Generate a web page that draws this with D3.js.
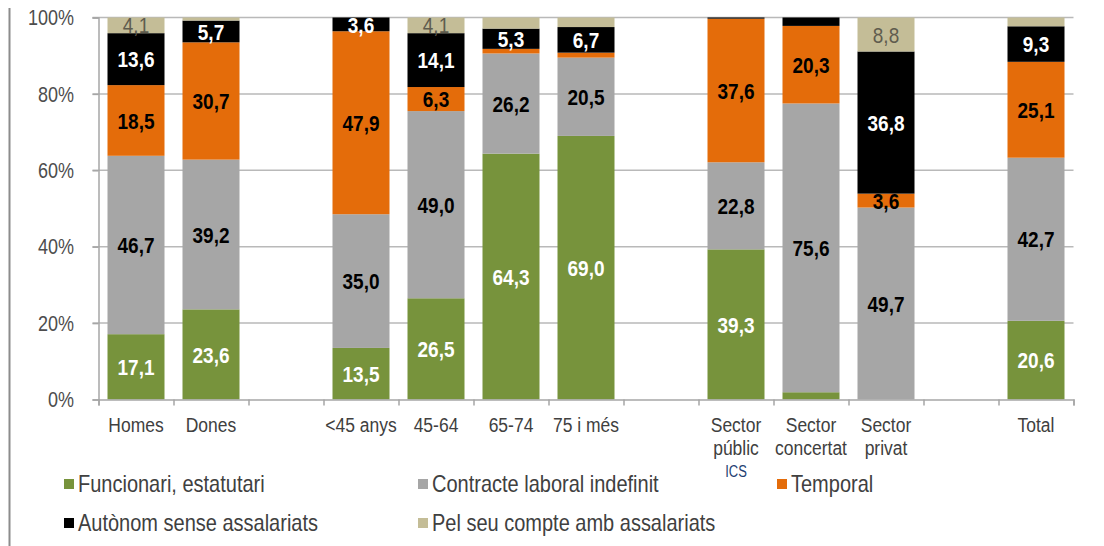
<!DOCTYPE html>
<html>
<head>
<meta charset="utf-8">
<script src="https://cdn.jsdelivr.net/npm/d3@7/dist/d3.min.js"></script>
<style>
  html, body { margin: 0; padding: 0; background: #fff; }
  svg { display: block; }
  text { font-family: "Liberation Sans", Arial, sans-serif; }
</style>
</head>
<body>
<svg id="chart" width="1104" height="546"></svg>
<script>
// ---- DATA ----
const categories = [
  ["Homes"], ["Dones"], [], ["<45 anys"], ["45-64"], ["65-74"], ["75 i més"], [],
  ["Sector", "públic"], ["Sector", "concertat"], ["Sector", "privat"], [], ["Total"]
];
const subNote = ["", "", "", "", "", "", "", "", "ICS", "", "", "", ""];
const seriesNames = [
  "Funcionari, estatutari",
  "Contracte laboral indefinit",
  "Temporal",
  "Autònom sense assalariats",
  "Pel seu compte amb assalariats"
];
const funcionari = [17.1, 23.6, null, 13.5, 26.5, 64.3, 69.0, null, 39.3, 1.9, 0, null, 20.6];
const contracte  = [46.7, 39.2, null, 35.0, 49.0, 26.2, 20.5, null, 22.8, 75.6, 49.7, null, 42.7];
const temporal   = [18.5, 30.7, null, 47.9, 6.3, 1.2, 1.3, null, 37.6, 20.3, 3.6, null, 25.1];
const autonom    = [13.6, 5.7, null, 3.6, 14.1, 5.3, 6.7, null, 0.3, 2.2, 36.8, null, 9.3];
const pelSeu     = [4.1, 0.8, null, 0, 4.1, 2.9, 2.5, null, 0, 0, 8.8, null, 2.3];
const yTicks = [0, 0.2, 0.4, 0.6, 0.8, 1.0];

// ---- STYLE ----
const colors = ["#77933C", "#A6A6A6", "#E46C0A", "#000000", "#C4BD97"];
const labelColors = ["#ffffff", "#000000", "#000000", "#ffffff", "#5f5c4e"];
const labelBold = [true, true, true, true, false];
const SY = 1.2; // vertical stretch of text as in reference

const svg = d3.select("#chart");
const margin = { left: 98.5, right: 30.5, top: 17.5, bottom: 146.5 };
const W = 1104, H = 546;

const seriesArrays = [funcionari, contracte, temporal, autonom, pelSeu];
const rows = categories.map((c, i) => {
  const r = { idx: i, blank: seriesArrays.every(a => a[i] == null) };
  seriesNames.forEach((n, k) => r[n] = seriesArrays[k][i] || 0);
  return r;
});

const x = d3.scaleBand()
  .domain(d3.range(categories.length))
  .range([margin.left, W - margin.right])
  .paddingInner(0.24).paddingOuter(0.12);
const slot = x.step();
const x0 = margin.left;
const y = d3.scaleLinear().domain([0, 1]).range([H - margin.bottom, margin.top]);

// left frame line
svg.append("line").attr("x1", 9.5).attr("x2", 9.5).attr("y1", 8).attr("y2", H)
  .attr("stroke", "#8c8c8c").attr("stroke-width", 2);

// gridlines
svg.append("g").selectAll("line").data(yTicks.filter(t => t > 0)).join("line")
  .attr("x1", x0 - 6).attr("x2", W - margin.right)
  .attr("y1", d => y(d)).attr("y2", d => y(d))
  .attr("stroke", "#b9b9b9").attr("stroke-width", 1.5);

// y axis
const yAxis = d3.axisLeft(y).tickValues(yTicks).tickSize(6).tickPadding(0).tickFormat(d => "");
const gy = svg.append("g").attr("transform", `translate(${x0},0)`).call(yAxis);
gy.select(".domain").attr("stroke", "#a6a6a6").attr("stroke-width", 1.5);
gy.selectAll(".tick line").attr("stroke", "#a6a6a6").attr("stroke-width", 1.5);

// y tick labels (stretched)
svg.append("g").selectAll("text").data(yTicks).join("text")
  .attr("transform", d => `translate(74,${y(d)}) scale(1,${SY})`)
  .attr("text-anchor", "end").attr("dominant-baseline", "central")
  .attr("font-size", 18).attr("fill", "#4d4d4d")
  .text(d => d3.format(".0%")(d));

// stacked bars
const stack = d3.stack().keys(seriesNames).offset(d3.stackOffsetExpand);
const stacked = stack(rows.filter(r => !r.blank));
const gBars = svg.append("g");
stacked.forEach((s, k) => {
  gBars.append("g").attr("fill", colors[k]).selectAll("rect").data(s).join("rect")
    .attr("x", d => x(d.data.idx))
    .attr("width", x.bandwidth())
    .attr("y", d => y(d[1]))
    .attr("height", d => Math.max(0, y(d[0]) - y(d[1])));
});

// x axis
const xLine = d3.scaleLinear().domain([0, categories.length]).range([x0, x0 + slot * categories.length]);
const xAxis = d3.axisBottom(xLine).tickValues(d3.range(categories.length + 1)).tickSize(6).tickFormat(() => "");
const gx = svg.append("g").attr("transform", `translate(0,${y(0)})`).call(xAxis);
gx.select(".domain").attr("stroke", "#a6a6a6").attr("stroke-width", 1.5);
gx.selectAll(".tick line").attr("stroke", "#a6a6a6").attr("stroke-width", 1.5);

// value labels
stacked.forEach((s, k) => {
  const key = seriesNames[k];
  gBars.append("g").selectAll("text").data(s.filter(d => d.data[key] >= 3)).join("text")
    .attr("transform", d => `translate(${x(d.data.idx) + x.bandwidth() / 2},${(y(d[0]) + y(d[1])) / 2}) scale(1,${SY})`)
    .attr("text-anchor", "middle").attr("dominant-baseline", "central")
    .attr("font-size", 19).attr("font-weight", labelBold[k] ? "bold" : "normal")
    .attr("fill", labelColors[k])
    .text(d => d.data[key].toFixed(1).replace(".", ","));
});

// category labels
const gCat = svg.append("g");
categories.forEach((lines, i) => {
  const cx = x(i) + x.bandwidth() / 2;
  lines.forEach((ln, j) => {
    gCat.append("text")
      .attr("transform", `translate(${cx},${425 + j * 23}) scale(1,${SY})`)
      .attr("text-anchor", "middle").attr("dominant-baseline", "central")
      .attr("font-size", 17.5).attr("fill", "#404040").text(ln);
  });
  if (subNote[i]) {
    gCat.append("text")
      .attr("transform", `translate(${cx},${425 + lines.length * 23 + 1}) scale(1,${SY})`)
      .attr("text-anchor", "middle").attr("dominant-baseline", "central")
      .attr("font-size", 13).attr("fill", "#1f3f73").text(subNote[i]);
  }
});

// legend
const legendPos = [[64, 484], [418, 484], [777, 484], [64, 523], [418, 523]];
const gLeg = svg.append("g");
seriesNames.forEach((n, k) => {
  const [lx, ly] = legendPos[k];
  gLeg.append("rect").attr("x", lx).attr("y", ly - 5).attr("width", 10).attr("height", 10).attr("fill", colors[k]);
  gLeg.append("text")
    .attr("transform", `translate(${lx + 14},${ly}) scale(1,${SY})`)
    .attr("dominant-baseline", "central")
    .attr("font-size", 20).attr("fill", "#404040").text(n);
});
</script>
</body>
</html>
